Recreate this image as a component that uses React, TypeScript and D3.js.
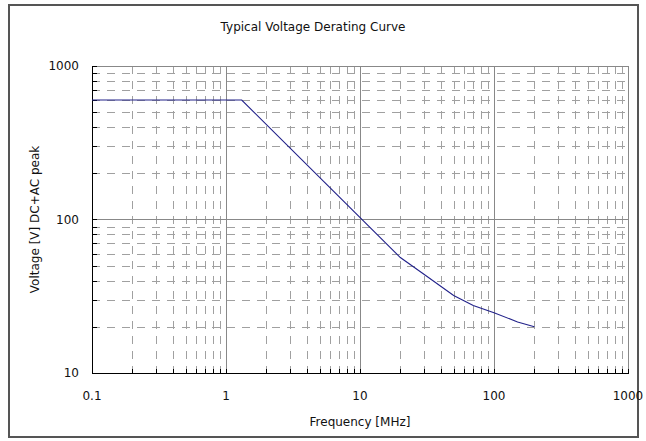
import { useEffect, useRef } from "react";
import * as d3 from "d3";

const freqMHz = [0.1, 1.31, 20, 30, 50, 70, 100, 150, 200];
const voltage = [600, 600, 56.5, 44, 32, 27.5, 24.7, 21.5, 20];
const xTicks = [0.1, 1, 10, 100, 1000];
const yTicks = [10, 100, 1000];
const xTickLabels = ["0.1", "1", "10", "100", "1000"];
const yTickLabels = ["10", "100", "1000"];

const W = 646;
const H = 441;
const FONT = "'DejaVu Sans', Verdana, sans-serif";

export default function App() {
  const ref = useRef<SVGSVGElement | null>(null);

  useEffect(() => {
    if (!ref.current) return;
    const svg = d3.select(ref.current);
    svg.selectAll("*").remove();

    const left = 92, right = 628, top = 66, bottom = 373;
    const x = d3.scaleLog().domain([0.1, 1000]).range([left, right]);
    const y = d3.scaleLog().domain([10, 1000]).range([bottom, top]);

    svg.append("rect").attr("width", W).attr("height", H).attr("fill", "#fff");
    svg
      .append("rect")
      .attr("x", 9)
      .attr("y", 5)
      .attr("width", 629)
      .attr("height", 432)
      .attr("fill", "none")
      .attr("stroke", "#555")
      .attr("stroke-width", 2);

    // minor values inside each decade
    const minorX: number[] = [];
    for (let d = 0.1; d < 1000; d *= 10)
      for (let k = 2; k <= 9; k++) minorX.push(d * k);
    const minorY: number[] = [];
    for (let d = 10; d < 1000; d *= 10)
      for (let k = 2; k <= 9; k++) minorY.push(d * k);

    const grid = svg.append("g").attr("shape-rendering", "crispEdges");
    grid
      .selectAll("line.mx")
      .data(minorX)
      .join("line")
      .attr("x1", (d) => Math.round(x(d)) + 0.5)
      .attr("x2", (d) => Math.round(x(d)) + 0.5)
      .attr("y1", top)
      .attr("y2", bottom)
      .attr("stroke", "#a0a0a0")
      .attr("stroke-dasharray", "8,7");
    grid
      .selectAll("line.my")
      .data(minorY)
      .join("line")
      .attr("x1", left)
      .attr("x2", right)
      .attr("y1", (d) => Math.round(y(d)) + 0.5)
      .attr("y2", (d) => Math.round(y(d)) + 0.5)
      .attr("stroke", "#a0a0a0")
      .attr("stroke-dasharray", "8,7");
    grid
      .selectAll("line.Mx")
      .data(xTicks.slice(1))
      .join("line")
      .attr("x1", (d) => Math.round(x(d)) + 0.5)
      .attr("x2", (d) => Math.round(x(d)) + 0.5)
      .attr("y1", top)
      .attr("y2", bottom)
      .attr("stroke", "#888");
    grid
      .selectAll("line.My")
      .data(yTicks.slice(1))
      .join("line")
      .attr("x1", left)
      .attr("x2", right)
      .attr("y1", (d) => Math.round(y(d)) + 0.5)
      .attr("y2", (d) => Math.round(y(d)) + 0.5)
      .attr("stroke", "#888");

    // axes: black left and bottom with small inward ticks
    const ax = svg.append("g").attr("shape-rendering", "crispEdges");
    ax.append("line")
      .attr("x1", left + 0.5).attr("x2", left + 0.5)
      .attr("y1", top).attr("y2", bottom + 1)
      .attr("stroke", "#000");
    ax.append("line")
      .attr("x1", left).attr("x2", right + 1)
      .attr("y1", bottom + 0.5).attr("y2", bottom + 0.5)
      .attr("stroke", "#000");
    ax.selectAll("line.ty")
      .data([...minorY, ...yTicks])
      .join("line")
      .attr("x1", left)
      .attr("x2", left + 5)
      .attr("y1", (d) => Math.round(y(d)) + 0.5)
      .attr("y2", (d) => Math.round(y(d)) + 0.5)
      .attr("stroke", "#000");
    ax.selectAll("line.tx")
      .data([...minorX, ...xTicks])
      .join("line")
      .attr("x1", (d) => Math.round(x(d)) + 0.5)
      .attr("x2", (d) => Math.round(x(d)) + 0.5)
      .attr("y1", bottom)
      .attr("y2", bottom - 4)
      .attr("stroke", "#000");

    // curve
    const line = d3
      .line<number>()
      .x((_, i) => x(freqMHz[i]))
      .y((d) => y(d));
    svg
      .append("path")
      .attr("d", line(voltage))
      .attr("fill", "none")
      .attr("stroke", "#22228a")
      .attr("stroke-width", 1.1);

    const txt = svg
      .append("g")
      .attr("font-family", FONT)
      .attr("font-size", 12)
      .attr("fill", "#111");
    txt.selectAll("text.xl")
      .data(xTicks)
      .join("text")
      .attr("x", (d) => x(d))
      .attr("y", 400)
      .attr("text-anchor", "middle")
      .text((_, i) => xTickLabels[i]);
    txt.selectAll("text.yl")
      .data(yTicks)
      .join("text")
      .attr("x", 79)
      .attr("y", (d) => y(d) + 4)
      .attr("text-anchor", "end")
      .text((_, i) => yTickLabels[i]);
    txt.append("text")
      .attr("x", 360)
      .attr("y", 426)
      .attr("text-anchor", "middle")
      .text("Frequency [MHz]");
    txt.append("text")
      .attr("transform", `translate(39,${(top + bottom) / 2}) rotate(-90)`)
      .attr("text-anchor", "middle")
      .text("Voltage [V] DC+AC peak");
    txt.append("text")
      .attr("x", 313)
      .attr("y", 31)
      .attr("text-anchor", "middle")
      .text("Typical Voltage Derating Curve");
  }, []);

  return (
    <svg
      ref={ref}
      width={W}
      height={H}
      style={{ position: "absolute", left: 0, top: 0 }}
    />
  );
}
